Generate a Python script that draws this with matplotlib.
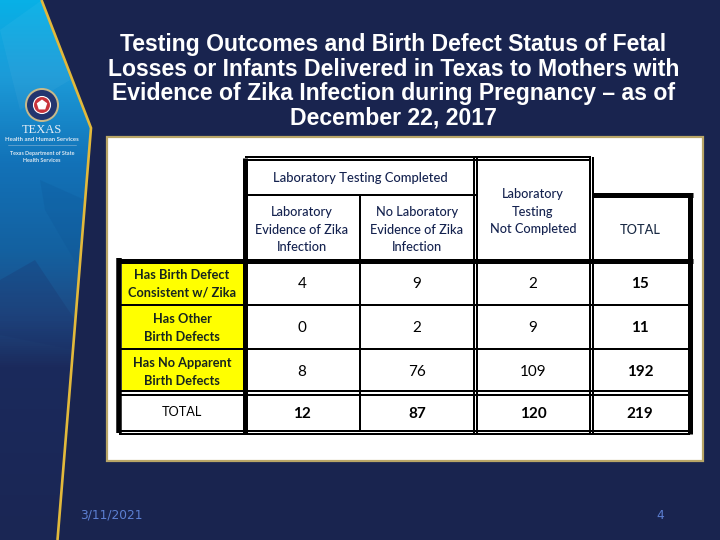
import numpy as np
import matplotlib
matplotlib.use("Agg")
import matplotlib.pyplot as plt
from matplotlib.patches import Polygon, Rectangle, Circle, RegularPolygon
from matplotlib.colors import LinearSegmentedColormap

title_lines = ["Testing Outcomes and Birth Defect Status of Fetal",
               "Losses or Infants Delivered in Texas to Mothers with",
               "Evidence of Zika Infection during Pregnancy – as of",
               "December 22, 2017"]
group_header = "Laboratory Testing Completed"
col_headers = ["Laboratory\nEvidence of Zika\nInfection",
               "No Laboratory\nEvidence of Zika\nInfection",
               "Laboratory\nTesting\nNot Completed",
               "TOTAL"]
row_labels = ["Has Birth Defect\nConsistent w/ Zika",
              "Has Other\nBirth Defects",
              "Has No Apparent\nBirth Defects",
              "TOTAL"]
lab_evidence = [4, 0, 8, 12]
no_lab_evidence = [9, 2, 76, 87]
not_completed = [2, 9, 109, 120]
row_totals = [15, 11, 192, 219]
footer_date = "3/11/2021"
footer_page = "4"

NAVY = "#19244F"
TXT = "#14224F"
GOLD = "#E2B93B"
FONT = "Lato"

fig = plt.figure(figsize=(7.2, 5.4), dpi=100, facecolor=NAVY)
ax = fig.add_axes([0, 0, 1, 1])
ax.set_xlim(0, 720)
ax.set_ylim(540, 0)
ax.axis("off")

# sidebar
side = [(0, 0), (41, 0), (91, 128), (58, 540), (0, 540)]
cmap = LinearSegmentedColormap.from_list("side", [
    (0.0, "#08B0E6"), (0.14, "#1C9BD8"), (0.30, "#1272B8"),
    (0.47, "#14609F"), (0.58, "#1E4A84"), (0.68, "#1B2A5C"), (1.0, "#1A2654")])
grad = np.linspace(0, 1, 540)[:, None]
im = ax.imshow(grad, cmap=cmap, extent=[0, 91, 540, 0], aspect="auto", zorder=1)
clip = Polygon(side, closed=True, transform=ax.transData, fc="none", ec="none")
ax.add_patch(clip)
im.set_clip_path(clip)
ax.set_xlim(0, 720)
ax.set_ylim(540, 0)
for pts, c, a in [([(0, 30), (42, 0), (70, 80), (20, 110)], "white", 0.04),
                  ([(0, 280), (35, 260), (75, 320), (75, 350), (0, 335)], "#1B2F68", 0.25),
                  ([(40, 180), (85, 200), (80, 270), (45, 210)], "#0B4E90", 0.18)]:
    f = Polygon(pts, closed=True, fc=c, ec="none", alpha=a, zorder=2)
    ax.add_patch(f)
    f.set_clip_path(clip)
ax.plot([41.5, 91, 57.5], [0, 128, 540], color=GOLD, lw=1.9, zorder=3,
        solid_joinstyle="miter", solid_capstyle="butt")

# logo
ax.add_patch(Circle((42, 105), 17, fc="#C8B98A", ec="none", zorder=4))
ax.add_patch(Circle((42, 105), 15, fc="#22356F", ec="none", zorder=5))
ax.add_patch(Circle((42, 105), 8.5, fc="#C8323A", ec="white", lw=0.8, zorder=6))
ax.add_patch(RegularPolygon((42, 105), 5, radius=5.5, orientation=np.pi, fc="white", ec="none", zorder=7))
ax.text(42, 130, "TEXAS", color="#E6EEF6", fontsize=9, family="Liberation Serif",
        ha="center", va="center", zorder=7)
ax.text(42, 139.5, "Health and Human Services", color="#DCE8F2", fontsize=4.3, weight="bold",
        family=FONT, ha="center", va="center", zorder=7)
ax.plot([8, 76], [145, 145], color="#8FB8D8", lw=0.4, zorder=7)
ax.text(42, 153.5, "Texas Department of State", color="#DCE8F2", fontsize=3.9, weight="bold",
        family=FONT, ha="center", va="center", zorder=7)
ax.text(42, 161, "Health Services", color="#DCE8F2", fontsize=3.9, weight="bold",
        family=FONT, ha="center", va="center", zorder=7)

# title
title_y = [44.5, 69, 93.5, 118]
for s, y in zip(title_lines, title_y):
    ax.text(393.5, y, s, color="white", fontsize=16.6, family="Liberation Sans",
            weight="bold", ha="center", va="center", zorder=5)

# content panel
ax.add_patch(Rectangle((107, 137), 596, 323.5, fc="white", ec="#B9A667", lw=1.6, zorder=2))

# table layout (pixel edges)
col_x = [245, 360, 475.5, 591.5, 690]
row_y = [260.5, 305, 349, 392.5, 432]
label_left = 119

ax.add_patch(Rectangle((122, row_y[0]), 121, row_y[3] - 2 - row_y[0], fc="#FFFF00", ec="none", zorder=3))


def hline(x0, x1, y, w):
    ax.plot([x0, x1], [y, y], color="black", lw=w * 0.72, solid_capstyle="butt", zorder=4)


def vline(x, y0, y1, w):
    ax.plot([x, x], [y0, y1], color="black", lw=w * 0.72, solid_capstyle="butt", zorder=4)


# thin and double lines
hline(col_x[0], col_x[3] - 1, 157, 2)
hline(col_x[0], col_x[3] - 1, 160, 2)
hline(col_x[0], col_x[2], 194.5, 2)
vline(col_x[1], 194, 432, 2)
for cx in (col_x[2], col_x[3]):
    vline(cx - 1.6, 157, 433, 2)
    vline(cx + 1.6, 157, 433, 2)
for y in row_y[1:3]:
    hline(label_left, col_x[4], y, 2)
hline(label_left, col_x[4], row_y[3] - 2, 2)
hline(label_left, col_x[4], row_y[3] + 2, 2)
hline(label_left, col_x[4], row_y[4] - 1, 2)
hline(label_left, col_x[4], row_y[4] + 1.8, 2)
# thick lines
vline(119, row_y[0] - 2.5, row_y[4] + 1, 5.5)
vline(col_x[0], 158, row_y[4] + 1, 5)
vline(col_x[4], 192.5, row_y[4] + 1.5, 5)
hline(116.5, 692.5, row_y[0], 5)
hline(col_x[3], 692.5, 195, 5)

# headers
ax.text(360, 178, group_header, color=TXT, fontsize=9.4, family=FONT, weight="medium",
        ha="center", va="center", zorder=5)
head_cx = [302, 417, 533, 640]
head_cy = [229.5, 229.5, 211.5, 229.5]
for cx, cy, s in zip(head_cx, head_cy, col_headers):
    ax.text(cx, cy, s, color=TXT if s != "TOTAL" else "#1A2A44", fontsize=9.2, family=FONT,
            weight="medium", ha="center", va="center", linespacing=1.52, zorder=5)

# body
row_text_cy = [284, 328, 372, 412.5]
cols = [lab_evidence, no_lab_evidence, not_completed, row_totals]
for r, (lab, cy) in enumerate(zip(row_labels, row_text_cy)):
    is_total = lab == "TOTAL"
    ax.text(182, cy, lab, color="black" if is_total else "#17251F", fontsize=9.2, family=FONT,
            weight="normal" if is_total else "bold",
            ha="center", va="center", linespacing=1.52, zorder=5)
    for c, vals in enumerate(cols):
        bold = is_total or c == 3
        ax.text(head_cx[c], cy + (0.5 if not is_total else 2), str(vals[r]), color="black",
                fontsize=11, family=FONT, weight="bold" if bold else "normal",
                ha="center", va="center", zorder=5)

# footer
ax.text(80, 515.5, footer_date, color="#5C7FD2", fontsize=8.8, family="DejaVu Sans",
        ha="left", va="center", zorder=5)
ax.text(660, 515.5, footer_page, color="#5C7FD2", fontsize=8.8, family="DejaVu Sans",
        ha="center", va="center", zorder=5)

fig.savefig("out.png", dpi=100, facecolor=NAVY)
